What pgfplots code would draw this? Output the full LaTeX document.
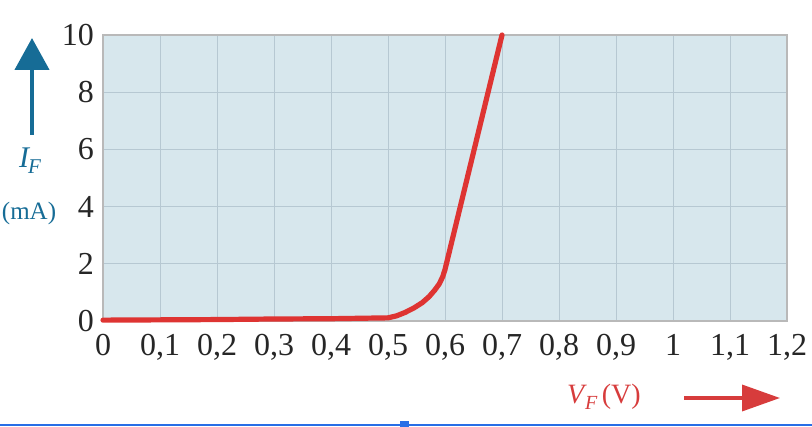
\documentclass[border=0pt]{standalone}
\usepackage{fontspec}
\setmainfont{Liberation Serif}
\usepackage{pgfplots}
\pgfplotsset{compat=1.18}
\usetikzlibrary{arrows.meta}
\definecolor{bgblue}{RGB}{215,231,237}
\definecolor{gridc}{RGB}{182,200,210}
\definecolor{curvered}{RGB}{222,52,50}
\definecolor{labblue}{RGB}{22,108,150}
\definecolor{labred}{RGB}{215,60,60}
\definecolor{uiblue}{RGB}{40,110,230}
\begin{document}
\begin{tikzpicture}[x=0.5pt,y=0.5pt]
\useasboundingbox (0,0) rectangle (812,427);
\begin{axis}[
  at={(51.5pt,53pt)}, anchor=south west,
  scale only axis, width=342pt, height=143pt,
  xmin=0, xmax=1.2, ymin=0, ymax=10,
  axis background/.style={fill=bgblue},
  axis line style={draw=gray!55, line width=0.6pt},
  grid=major, major grid style={draw=gridc, line width=0.5pt},
  xtick={0,0.1,...,1.2},
  xticklabels={0,{0,1},{0,2},{0,3},{0,4},{0,5},{0,6},{0,7},{0,8},{0,9},1,{1,1},{1,2}},
  ytick={0,2,4,6,8,10},
  yticklabels={0,2,4,6,8,10},
  major tick length=0pt,
  tick label style={font=\fontsize{16}{18}\selectfont, text=black!85},
  xticklabel style={yshift=-3pt},
  yticklabel style={xshift=-1pt},
  clip=false,
]
\addplot[curvered, line width=2.6pt, line join=round, line cap=round] coordinates {
 (0,0.03) (0.1,0.04) (0.2,0.05) (0.3,0.07) (0.4,0.08) (0.5,0.11)
 (0.515,0.18) (0.53,0.3) (0.545,0.45) (0.56,0.64) (0.572,0.85)
 (0.582,1.08) (0.59,1.3) (0.596,1.55) (0.6,1.8) (0.7,10)
};
\end{axis}
% y label and arrow
\draw[labblue, line width=2.2pt, -{Triangle[width=17pt, length=16pt]}] (32,292) -- (32,389);
\node[labblue, font=\fontsize{15}{16}\selectfont\itshape] at (30,266) {I\kern-0.5pt\raisebox{-3pt}{\fontsize{10.5}{11}\selectfont F}};
\node[labblue, font=\fontsize{12.5}{14}\selectfont] at (29,214) {(mA)};
% x label and arrow
\node[labred, font=\fontsize{14}{15}\selectfont] at (604,30) {\textit{V}\kern-1pt\raisebox{-3pt}{\fontsize{10}{11}\selectfont\itshape F}\,(V)};
\draw[labred, line width=1.8pt, -{Triangle[width=13pt, length=19pt]}] (684,29) -- (780,29);
% bottom UI line
\draw[uiblue, line width=1pt] (0,2) -- (812,2);
\fill[uiblue] (400,0) rectangle (409,6);
\end{tikzpicture}
\end{document}
